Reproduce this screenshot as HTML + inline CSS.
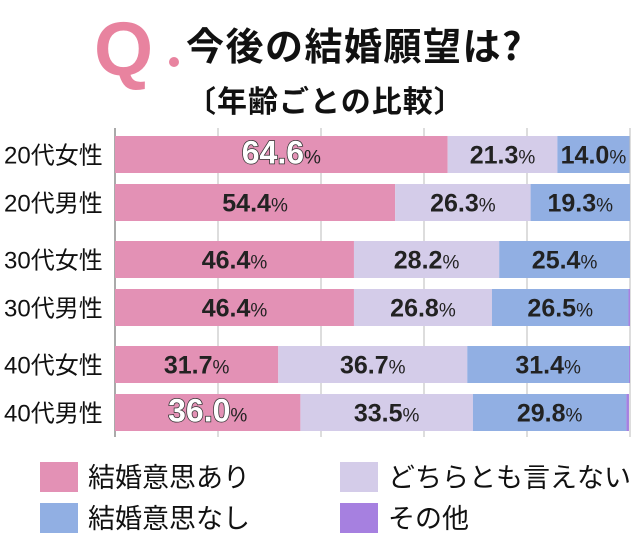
<!DOCTYPE html>
<html><head><meta charset="utf-8"><style>
body{margin:0;width:640px;height:541px;background:#fff;overflow:hidden;font-family:"Liberation Sans","Noto Sans CJK JP",sans-serif}
</style></head><body>
<svg width="640" height="541" viewBox="0 0 640 541">
<text x="94" y="75" font-size="76" font-weight="bold" fill="#e8839f" font-family="Liberation Sans,sans-serif">Q</text>
<circle cx="174" cy="62" r="5" fill="#e8839f"/>
<text x="186" y="60" font-size="38" letter-spacing="1.5" font-weight="bold" fill="#111" font-family="Noto Sans CJK JP,sans-serif">今後の結婚願望は?</text>
<text x="186" y="112" font-size="30" letter-spacing="1" font-weight="bold" fill="#111" font-family="Noto Sans CJK JP,sans-serif">〔年齢ごとの比較〕</text>
<g id="grid"></g><g id="bars"></g>
<g id="legend"></g>
</svg>
<script>
const categories=["20代女性","20代男性","30代女性","30代男性","40代女性","40代男性"];
const wish=[64.6,54.4,46.4,46.4,31.7,36.0];
const neither=[21.3,26.3,28.2,26.8,36.7,33.5];
const noWish=[14.0,19.3,25.4,26.5,31.4,29.8];
const other=[0,0,0,0.3,0.2,0.5];
const ticks=[0,20,40,60,80,100];
const NS="http://www.w3.org/2000/svg";
const x0=115,x1=630,xs=v=>x0+(x1-x0)*v/100;
const rowY=[136,184,241,289,346,394],bh=37;
function el(t,a,p){const e=document.createElementNS(NS,t);for(const k in a)e.setAttribute(k,a[k]);p.appendChild(e);return e;}
const grid=document.getElementById('grid'),bars=document.getElementById('bars'),lg=document.getElementById('legend');
ticks.forEach(t=>{const l=el('line',{x1:xs(t),x2:xs(t),y1:128,y2:437,stroke:t==0?'#555':'#bbb','stroke-width':1},grid);

});
const series=[[wish,'#e391b5','wish'],[neither,'#d4cce9','neither'],[noWish,'#91afe3','no-wish'],[other,'#a680e0','other']];
categories.forEach((c,i)=>{
 const y=rowY[i];
 const lab=el('text',{x:4,y:y+bh/2+9,'font-size':24,fill:'#111'},bars);lab.textContent=c;
 
 
 let acc=0;
 series.forEach(([arr,col,nm],si)=>{
  const v=arr[i];const r=el('rect',{x:xs(acc),y:y,width:Math.max(0,xs(acc+v)-xs(acc)),height:bh,fill:col},bars);
  
  
  if(si<3){
   const cx=(xs(acc)+xs(acc+v))/2;
   const big=(si==0&&(i==0||i==5));
   const t=el('text',{x:cx,y:y+bh/2+9,'text-anchor':'middle','font-size':big?32:25,'font-weight':'bold',fill:big?'#fff':'#222',stroke:big?'#333':'none','stroke-width':big?1.5:0,'paint-order':'stroke'},bars);
   
   
   t.textContent=v.toFixed(1);
   const p=document.createElementNS(NS,'tspan');p.setAttribute('font-size','19');p.setAttribute('font-weight','normal');p.setAttribute('fill','#222');p.setAttribute('stroke','none');p.textContent='%';t.appendChild(p);
  }
  acc+=v;
 });
});
const legend=[["結婚意思あり",'#e391b5',40,462],["どちらとも言えない",'#d4cce9',340,462],["結婚意思なし",'#91afe3',40,503],["その他",'#a680e0',340,503]];
legend.forEach(([n,c,x,y])=>{
 const r=el('rect',{x:x,y:y,width:38,height:30,fill:c},lg);
 
 
 const t=el('text',{x:x+48,y:y+25,'font-size':27,fill:'#111'},lg);t.textContent=n;
 
 
});
</script>
</body></html>
